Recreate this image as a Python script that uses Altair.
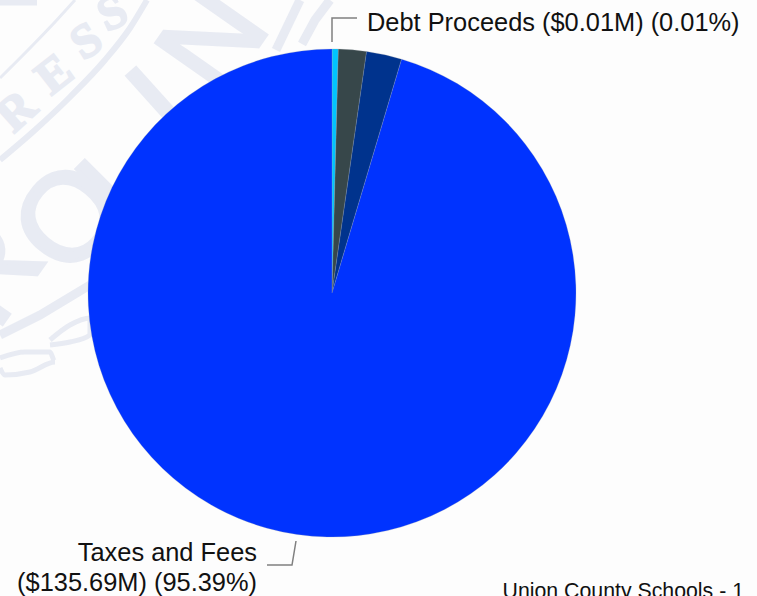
import altair as alt
import pandas as pd

# Revenue by source, clockwise from twelve o'clock
sources = ["Debt Proceeds", "Other Receipts", "Sales and Services", "Grants", "Taxes and Fees"]
amounts_m = [0.01, 0.58, 2.63, 3.33, 135.69]
slice_colors = ["#7f8c8d", "#00c4ff", "#37474a", "#00338d", "#0033ff"]

# Faint state seal behind the pie
seal_color = "#e8ebf3"
big_letters = ["R", "O", "L", "I", "N"]
big_x = [-8, 72, 128, 164, 216]
big_y = [274, 220, 186, 108, 42]
big_angle = [305, 310, 315, 318, 305]

small_letters = ["R", "E", "S", "S"]
small_x = [17, 55, 87, 113]
small_y = [112, 75, 42, 14]
small_angle = [318, 322, 328, 335]

seal_strokes = {
    "outer ring": ([0, 30, 55, 75], [78, 48, 22, 0], 3),
    "inner ring": ([0, 35, 70, 105, 130, 147], [160, 130, 97, 60, 28, 0], 6),
    "ribbon top": ([0, 40, 90], [335, 315, 285], 9),
    "ribbon loop a": ([0, 25, 50, 55, 30, 5, 0], [358, 352, 352, 362, 372, 375, 368], 5),
    "ribbon loop b": ([50, 70, 90, 90, 70, 50], [340, 325, 318, 335, 342, 345], 5),
    "feather a": ([276, 288, 300], [50, 25, 0], 9),
    "feather b": ([302, 315, 330], [44, 20, 0], 9),
    "corner": ([0, 37], [2, 2], 7),
}

debt_leader_x, debt_leader_y = [332, 332, 357], [42, 18, 18]
taxes_leader_x, taxes_leader_y = [296, 292, 267], [541, 565, 565]

px_x = alt.X("x:Q", scale=alt.Scale(domain=[0, 757]), axis=None)
px_y = alt.Y("y:Q", scale=alt.Scale(domain=[596, 0]), axis=None)
FONT = "Liberation Sans"


def polyline(xs, ys, color, width):
    frame = pd.DataFrame({"x": xs, "y": ys, "step": range(len(xs))})
    return alt.Chart(frame).mark_line(color=color, strokeWidth=width, interpolate="monotone" if len(xs) > 3 else "linear").encode(
        x=px_x, y=px_y, order="step:Q"
    )


def letters(chars, xs, ys, angles, size, family, weight, outline):
    frame = pd.DataFrame({"t": chars, "x": xs, "y": ys, "a": angles})
    return alt.Chart(frame).mark_text(
        font=family, fontSize=size, fontWeight=weight, color=seal_color, stroke=seal_color,
        strokeWidth=outline, align="center", baseline="middle"
    ).encode(x=px_x, y=px_y, text="t:N", angle=alt.Angle("a:Q", scale=None))


def caption(lines, xs, ys, size, align):
    frame = pd.DataFrame({"t": lines, "x": xs, "y": ys})
    return alt.Chart(frame).mark_text(
        font=FONT, fontSize=size, color="#111111", align=align, baseline="middle"
    ).encode(x=px_x, y=px_y, text="t:N")


pie_frame = pd.DataFrame({"source": sources, "amount": amounts_m, "rank": range(len(sources))})
pie = alt.Chart(pie_frame).mark_arc(outerRadius=244, stroke="#9aa0a8", strokeWidth=0.25).encode(
    x=alt.value(332),
    y=alt.value(293),
    theta=alt.Theta("amount:Q", stack=True),
    order=alt.Order("rank:Q"),
    color=alt.Color("source:N", scale=alt.Scale(domain=sources, range=slice_colors), legend=None),
)

layers = [polyline(xs, ys, seal_color, w) for xs, ys, w in seal_strokes.values()]
layers += [
    letters(big_letters, big_x, big_y, big_angle, 124, FONT, "normal", 4),
    letters(small_letters, small_x, small_y, small_angle, 48, "Liberation Serif", "bold", 2),
    pie,
    polyline(debt_leader_x, debt_leader_y, "#808080", 1.5),
    polyline(taxes_leader_x, taxes_leader_y, "#808080", 1.5),
    caption(["Debt Proceeds ($0.01M) (0.01%)"], [367], [23], 25.4, "left"),
    caption(["Taxes and Fees", "($135.69M) (95.39%)"], [257, 257], [553, 583], 25.4, "right"),
    caption(["Union County Schools - 1"], [744], [592], 21.3, "right"),
]

chart = (
    alt.layer(*layers)
    .resolve_scale(theta="independent", color="independent")
    .properties(width=757, height=596, padding=0, autosize=alt.AutoSizeParams(type="none"), background="#fdfdfd")
    .configure_view(stroke=None)
)

chart.save("out.html", embed_options={"renderer": "svg", "actions": False})
